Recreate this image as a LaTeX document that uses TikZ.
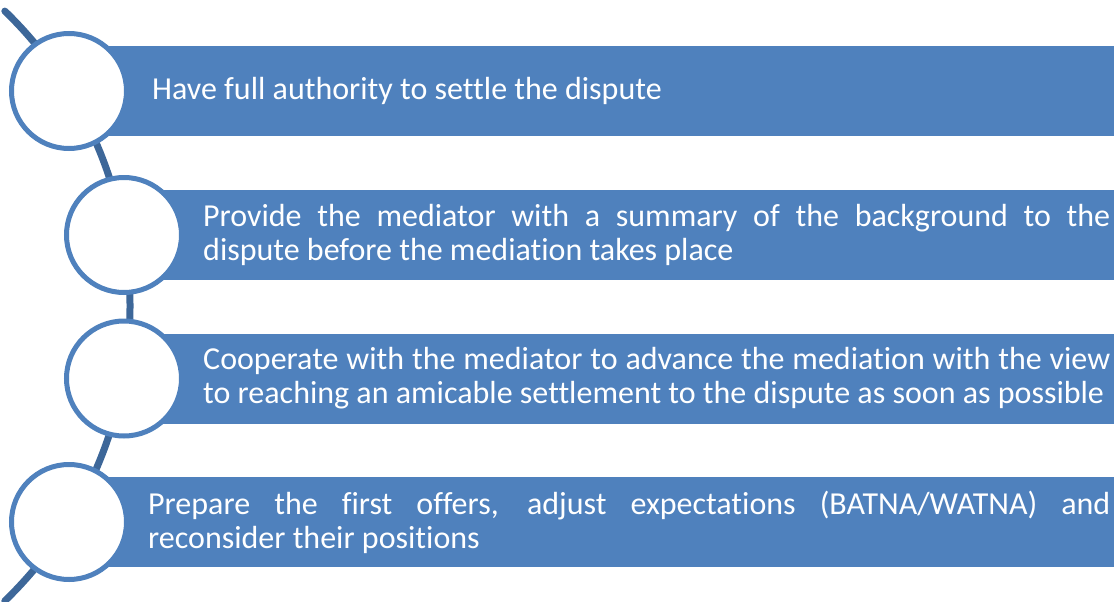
\documentclass[tikz,border=0pt]{standalone}
\usepackage{fontspec}
\setmainfont[Ligatures=NoCommon]{Carlito}
\definecolor{barblue}{RGB}{79,129,189}
\definecolor{arcblue}{RGB}{61,103,153}
\begin{document}
\begin{tikzpicture}[x=1pt,y=-1pt,
  bar/.style={fill=barblue, draw=none, minimum height=90pt, inner sep=0pt, anchor=west},
  ring/.style={circle, draw=barblue, fill=white, line width=5pt, minimum size=115pt, inner sep=0pt},
  lbl/.style={text=white, font=\fontsize{32}{34}\selectfont, anchor=west, inner sep=0pt},
  jlbl/.style={lbl, align=justify}
]
\useasboundingbox (0,0) rectangle (1114,602);
\draw[arcblue, line width=7pt, line cap=round] (-280,306) ++(46:410) arc[start angle=46, end angle=-46, radius=410];
\node[bar, minimum width=1045pt] (b1) at (69,91) {};
\node[bar, minimum width=990pt] (b2) at (124,235) {};
\node[bar, minimum width=990pt] (b3) at (124,378.5) {};
\node[bar, minimum width=1045pt] (b4) at (69,522) {};
\node[ring] (c1) at (69,91) {};
\node[ring] (c2) at (124,235) {};
\node[ring] (c3) at (124,378.5) {};
\node[ring] (c4) at (69,522) {};
\node[lbl] (t1) at (152,91) {Have full authority to settle the dispute};
\node[jlbl, text width=907pt] (t2) at (203,235) {Provide the mediator with a summary of the background to the\linebreak dispute before the mediation takes place};
\node[jlbl, text width=907pt] (t3) at (203,378.5) {Cooperate with the mediator to advance the mediation with the view\linebreak to reaching an amicable settlement to the dispute as soon as possible};
\node[jlbl, text width=962pt] (t4) at (148,522) {Prepare the first offers, adjust expectations (BATNA/WATNA) and\linebreak reconsider their positions};
\end{tikzpicture}
\end{document}
